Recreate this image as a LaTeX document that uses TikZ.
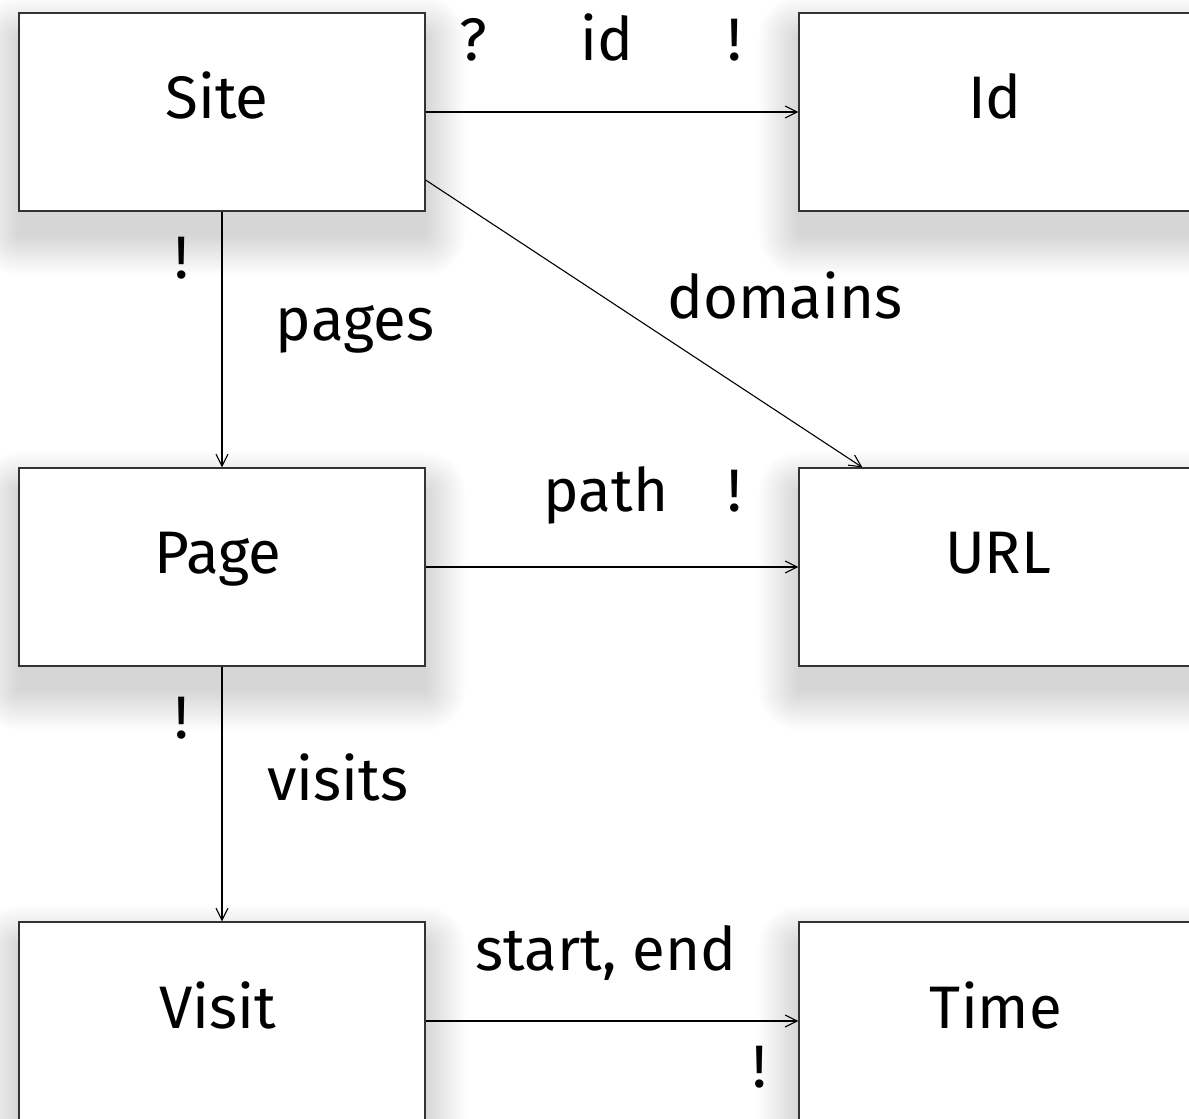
\documentclass[tikz,border=0pt]{standalone}
\usepackage{fontspec}
\setmainfont{Fira Sans}
\usetikzlibrary{arrows.meta,backgrounds}
\begin{document}
\begin{tikzpicture}[x=0.5pt,y=-0.5pt,
  entity/.style={draw=black!80,line width=0.6pt,fill=white,
    minimum width=203pt,minimum height=99pt,inner sep=0pt},
  rel/.style={line width=0.55pt,-{Straight Barb[length=6pt,width=6pt,line width=0.55pt]}},
  lbl/.style={inner sep=0pt,anchor=base,font=\fontsize{30}{36}\selectfont},
  shadowlayer/.style={black,opacity=0.0055}]
\clip (0,0) rectangle (1189,1119);
% entity boxes
\node[entity] (site)  at (222,112)  {};
\node[entity] (id)    at (1002,112) {};
\node[entity] (page)  at (222,567)  {};
\node[entity] (url)   at (1002,567) {};
\node[entity] (visit) at (222,1021) {};
\node[entity] (time)  at (1002,1021) {};
% soft drop shadows, built from stacked translucent rectangles
\begin{pgfonlayer}{background}
  \fill[white] (0,0) rectangle (1189,1119);
  \foreach \n in {site,id,page,url,visit,time}{
    \foreach \e in {0,...,40}{
      \fill[shadowlayer,rounded corners=\e*0.5pt]
        ([xshift=-\e*0.5pt,yshift=-12pt+\e*0.5pt]\n.north west)
        rectangle ([xshift=\e*0.5pt,yshift=-12pt-\e*0.5pt]\n.south east);
    }
  }
\end{pgfonlayer}
% entity names
\node[lbl] (sitet)  at (217,118)  {Site};
\node[lbl] (idt)    at (995,118)  {Id};
\node[lbl] (paget)  at (218,573)  {Page};
\node[lbl] (urlt)   at (998,573)  {URL};
\node[lbl] (visitt) at (218,1028) {Visit};
\node[lbl] (timet)  at (996,1028) {Time};
% relations
\draw[rel] (site.east) -- (id.west);
\draw[rel] (site.south) -- (page.north);
\draw[rel] ([yshift=-34pt]site.east) -- ([xshift=32pt]url.north west);
\draw[rel] (page.east) -- (url.west);
\draw[rel] (page.south) -- (visit.north);
\draw[rel] (visit.east) -- (time.west);
% relation labels
\node[lbl] (q1)   at (473,60)  {?};
\node[lbl] (l1)   at (607,60)  {id};
\node[lbl] (b1)   at (735,60)  {!};
\node[lbl] (b2)   at (182,278) {!};
\node[lbl] (l2)   at (355,340) {pages};
\node[lbl] (l3)   at (785,318) {domains};
\node[lbl] (l4)   at (606,511) {path};
\node[lbl] (b4)   at (735,511) {!};
\node[lbl] (b5)   at (182,738) {!};
\node[lbl] (l5)   at (338,800) {visits};
\node[lbl] (l6)   at (606,970) {start, end};
\node[lbl] (b6)   at (760,1087) {!};
\end{tikzpicture}
\end{document}
